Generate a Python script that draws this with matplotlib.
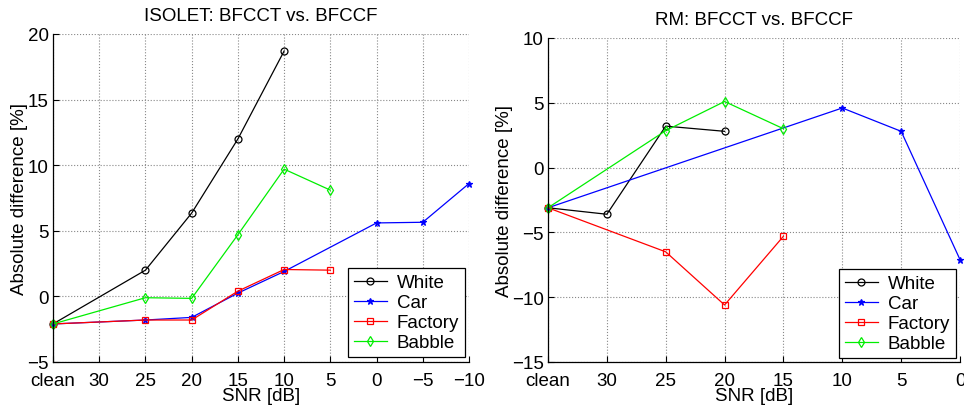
import numpy as np
import matplotlib.pyplot as plt

plt.rcParams['font.family'] = ['Liberation Sans', 'DejaVu Sans']

# x categories (SNR)
snr_left = ['clean', '30', '25', '20', '15', '10', '5', '0', '\u22125', '\u221210']
snr_right = ['clean', '30', '25', '20', '15', '10', '5', '0']

# ISOLET: positions are category indices
isolet_white_x = [0, 2, 3, 4, 5]
isolet_white = [-2.1, 2.0, 6.35, 12.0, 18.7]
isolet_car_x = [0, 2, 3, 4, 5, 7, 8, 9]
isolet_car = [-2.1, -1.8, -1.6, 0.25, 1.9, 5.6, 5.65, 8.6]
isolet_factory_x = [0, 2, 3, 4, 5, 6]
isolet_factory = [-2.1, -1.8, -1.8, 0.4, 2.05, 2.0]
isolet_babble_x = [0, 2, 3, 4, 5, 6]
isolet_babble = [-2.1, -0.1, -0.15, 4.7, 9.7, 8.1]

# RM
rm_white_x = [0, 1, 2, 3]
rm_white = [-3.1, -3.6, 3.2, 2.8]
rm_car_x = [0, 5, 6, 7]
rm_car = [-3.1, 4.6, 2.8, -7.1]
rm_factory_x = [0, 2, 3, 4]
rm_factory = [-3.1, -6.5, -10.6, -5.3]
rm_babble_x = [0, 2, 3, 4]
rm_babble = [-3.1, 2.85, 5.1, 3.0]

labels = ['White', 'Car', 'Factory', 'Babble']
colors = ['black', 'blue', 'red', '#00ee00']
markers = ['o', '*', 's', 'd']

FS = 13.5

fig = plt.figure(figsize=(9.64, 4.06), dpi=100)
ax1 = fig.add_axes([53 / 964, 1 - 363 / 406, 416 / 964, 328 / 406])
ax2 = fig.add_axes([548 / 964, 1 - 363 / 406, 412 / 964, 324 / 406])


def draw(ax, series, ticks, ylim, yticks, title, leg_anchor, tpad):
    for (xs, ys), lab, c, m in zip(series, labels, colors, markers):
        ax.plot(xs, ys, color=c, marker=m, markersize=5, linewidth=0.9,
                markerfacecolor='none' if m != '*' else c,
                markeredgewidth=0.9, label=lab, clip_on=False)
    ax.set_xlim(0, len(ticks) - 1)
    ax.set_ylim(*ylim)
    ax.set_xticks(range(len(ticks)))
    ax.set_xticklabels(ticks)
    ax.set_yticks(yticks)
    ax.set_yticklabels([str(v).replace('-', '\u2212') for v in yticks])
    ax.tick_params(direction='in', length=4, labelsize=FS)
    ax.tick_params(axis='x', pad=7)
    ax.tick_params(axis='y', pad=3)
    ax.grid(True, linestyle=':', color='#888888', linewidth=0.8)
    for s in ['top', 'right']:
        ax.spines[s].set_visible(False)
    for s in ['left', 'bottom']:
        ax.spines[s].set_linewidth(0.9)
    ax.set_title(title, fontsize=FS, pad=tpad)
    ax.set_xlabel('SNR [dB]', fontsize=FS, labelpad=-1)
    ax.set_ylabel('Absolute difference [%]', fontsize=FS, labelpad=-0.5)
    leg = ax.legend(loc='lower right', bbox_to_anchor=leg_anchor, fontsize=FS,
                    fancybox=False, framealpha=1, edgecolor='black',
                    handlelength=1.75, borderpad=0.3, labelspacing=0.16,
                    handletextpad=0.55, borderaxespad=0)
    leg.get_frame().set_linewidth(0.9)


draw(ax1,
     [(isolet_white_x, isolet_white), (isolet_car_x, isolet_car),
      (isolet_factory_x, isolet_factory), (isolet_babble_x, isolet_babble)],
     snr_left, (-5, 20), [-5, 0, 5, 10, 15, 20],
     'ISOLET: BFCCT vs. BFCCF', (0.99, 0.015), 10)
draw(ax2,
     [(rm_white_x, rm_white), (rm_car_x, rm_car),
      (rm_factory_x, rm_factory), (rm_babble_x, rm_babble)],
     snr_right, (-15, 10), [-15, -10, -5, 0, 5, 10],
     'RM: BFCCT vs. BFCCF', (0.99, 0.012), 10)

fig.savefig('out.png', dpi=100)
